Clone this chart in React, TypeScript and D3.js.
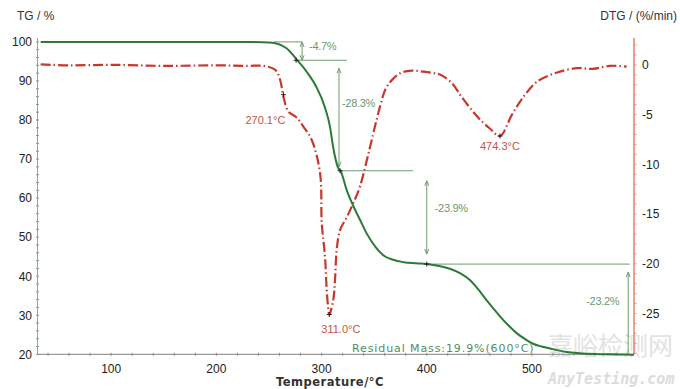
import React from "react";
import * as d3 from "d3";

const tgTemp = [33, 100, 200, 235, 250, 257, 262, 267, 276, 286, 295, 303, 308, 311, 316, 318, 324, 330, 337, 343, 351, 359, 368, 378, 390, 400, 412, 422, 432, 441, 449, 457, 464, 470, 478, 486, 494, 501, 509, 517, 525, 533, 545, 560, 575, 597];
const tgMass = [100, 100, 100, 99.95, 99.85, 99.6, 99.1, 98.3, 95.6, 92.3, 88.5, 83.4, 78.3, 73.1, 67.6, 67.0, 62.0, 58.1, 54.2, 50.9, 47.6, 45.3, 44.2, 43.6, 43.3, 43.1, 42.6, 41.9, 40.7, 39.0, 36.6, 33.8, 31.5, 29.6, 27.3, 25.3, 23.8, 22.7, 22.0, 21.5, 21.0, 20.6, 20.3, 20.1, 20.0, 19.9];

const dtgTemp = [33, 60, 100, 150, 200, 230, 244.7, 256, 260.6, 263.8, 268.5, 276.4, 282.7, 290.7, 298.6, 300.2, 303.3, 304.9, 306.5, 307.4, 311.2, 312.8, 314.4, 317.6, 324, 330.2, 336.6, 343, 347.7, 355.6, 362, 374.6, 385.7, 396.7, 405, 413, 424, 433, 448, 460, 469.6, 481, 492, 505, 524, 543, 558, 574, 590];
const dtgRate = [0.05, -0.05, 0, -0.1, -0.05, -0.1, -0.1, -0.5, -1.5, -3.2, -4.7, -5.3, -6.2, -7.55, -10.9, -15.9, -19.3, -22.6, -24.6, -25.1, -23.6, -21.6, -18.6, -16.6, -15.3, -13.9, -12.2, -9.6, -7.55, -4.2, -2.2, -0.85, -0.58, -0.68, -0.8, -1.0, -1.85, -3.2, -5.2, -6.4, -7.15, -5.0, -3.2, -1.68, -0.77, -0.33, -0.4, -0.1, -0.17];

const tempTicks = [100, 200, 300, 400, 500];
const tgTicks = [20, 30, 40, 50, 60, 70, 80, 90, 100];
const dtgTicks = [-25, -20, -15, -10, -5, 0];

// mass-loss steps: level before, level after, label, temperature of the arrow
const stepFrom = [100, 95.3, 67.0, 43.1];
const stepTo = [95.3, 67.0, 43.1, 19.9];
const stepLabels = ["-4.7%", "-28.3%", "-23.9%", "-23.2%"];
const stepArrowT = [281.5, 316.6, 400, 591.5];
const stepLineStartT = [255, 276, 317.6, 400];
const stepLineEndT = [281.5, 324, 387, 593];

const tgMarkT = [275.8, 317.6, 400];
const tgMarkV = [95.3, 67.0, 43.1];
const peakT = [263.8, 307.4, 469.6];
const peakV = [-3.0, -25.1, -7.15];
const peakLabels = ["270.1°C", "311.0°C", "474.3°C"];

const W = 680, H = 389;
const x = d3.scaleLinear().domain([30, 597]).range([37.5, 634]);
const yL = d3.scaleLinear().domain([20, 101]).range([354.3, 38]);
const yR = d3.scaleLinear().domain([-29.1, 2.7]).range([354.3, 38]);

const GREEN = "#2b7a37";
const RED = "#c8372c";
const ANN = "#6f9c73";
const ANNTXT = "#6a9a6e";
const RAXIS = "#e7836a";
const FONT = "'Liberation Sans', Arial, sans-serif";

function Plus({ cx, cy }: { cx: number; cy: number }) {
  return (
    <g stroke="#222" strokeWidth={1}>
      <line x1={cx - 2.5} x2={cx + 2.5} y1={cy} y2={cy} />
      <line x1={cx} x2={cx} y1={cy - 2.5} y2={cy + 2.5} />
    </g>
  );
}

function VArrow({ xp, y1, y2, up, down }: { xp: number; y1: number; y2: number; up: boolean; down: boolean }) {
  return (
    <g stroke={ANN} strokeWidth={1} fill="none">
      <line x1={xp} x2={xp} y1={y1} y2={y2} />
      {up && <path d={`M${xp - 2},${y1 + 5} L${xp},${y1} L${xp + 2},${y1 + 5}`} />}
      {down && <path d={`M${xp - 2},${y2 - 5} L${xp},${y2} L${xp + 2},${y2 - 5}`} />}
    </g>
  );
}

export default function App() {
  const tgLine = d3
    .line<number>()
    .x((_, i) => x(tgTemp[i]))
    .y((d) => yL(d))
    .curve(d3.curveMonotoneX)(tgMass) as string;
  const dtgLine = d3
    .line<number>()
    .x((_, i) => x(dtgTemp[i]))
    .y((d) => yR(d))
    .curve(d3.curveCatmullRom.alpha(0.5))(dtgRate) as string;

  const minorT = d3.range(40, 597, 20);
  const minorL = d3.range(20, 101, 2);
  const minorR = d3.range(-29, 3, 1);

  const x0 = x.range()[0];
  const x1 = x.range()[1];
  const yb = yL.range()[0];
  const yt = yL.range()[1];

  const arrowY1 = [yL(stepFrom[0]), yL(stepFrom[1]) + 8, yL(stepFrom[2]) + 10, yL(stepFrom[3]) + 8];
  const arrowY2 = [yL(stepTo[0]), yL(stepTo[1]) - 4, yL(stepTo[2]) - 10, yb];
  const labelPos = [
    [x(stepArrowT[0]) + 7, yL(97.8)],
    [x(stepArrowT[1]) + 3, yL(83.3)],
    [x(stepArrowT[2]) + 8, yL(56.4)],
    [x(stepArrowT[3]) - 42, yL(32.7)],
  ];
  const peakLabelPos = [
    [x(peakT[0]) - 38, yR(-5.9)],
    [x(peakT[1]) - 8, yR(-27.0)],
    [x(peakT[2]) - 20, yR(-8.6)],
  ];

  return (
    <svg width={W} height={H} style={{ position: "absolute", left: 0, top: 0, background: "#fff" }} fontFamily={FONT}>
      <rect width={W} height={H} fill="#fff" />

      {/* watermark */}
      <text x={548} y={355} fontFamily="'Noto Sans CJK SC', sans-serif" fontSize={25} fill="#e2e2e2">
        嘉峪检测网
      </text>
      <text x={548} y={384} fontFamily="'DejaVu Sans Mono', monospace" fontStyle="italic" fontWeight="bold" fontSize={15} fill="#dcdcdc">
        AnyTesting.com
      </text>

      {/* axes titles */}
      <text x={17} y={20} fontSize={12} fill="#333">TG / %</text>
      <text x={677} y={20} fontSize={12} fill="#333" textAnchor="end">DTG / (%/min)</text>
      <text x={330} y={386} fontSize={11.5} fontWeight="bold" fill="#333" textAnchor="middle" fontFamily="'DejaVu Sans', sans-serif" letterSpacing={0.5}>
        Temperature/°C
      </text>

      {/* bottom axis */}
      <line x1={x0} x2={x1} y1={yb} y2={yb} stroke="#9a9a9a" strokeWidth={1.2} />
      {minorT.map((t) => (
        <line key={"mt" + t} x1={x(t)} x2={x(t)} y1={yb - 1.5} y2={yb + 1.5} stroke="#8a8a8a" strokeWidth={1} />
      ))}
      {tempTicks.map((t) => (
        <text key={"tt" + t} x={x(t)} y={373} fontSize={12} fill="#222" textAnchor="middle">
          {t}
        </text>
      ))}

      {/* left axis */}
      <line x1={x0} x2={x0} y1={yt} y2={yb} stroke="#8fae8f" strokeWidth={1} />
      {minorL.map((v) => (
        <line key={"ml" + v} x1={x0 - 1.5} x2={x0 + 1.5} y1={yL(v)} y2={yL(v)} stroke="#7f9f7f" strokeWidth={1} />
      ))}
      {tgTicks.map((v) => (
        <text key={"tl" + v} x={32} y={yL(v) + 4.3} fontSize={12} fill="#222" textAnchor="end">
          {v}
        </text>
      ))}

      {/* right axis */}
      <line x1={x1} x2={x1} y1={yt} y2={yb} stroke={RAXIS} strokeWidth={1.5} />
      {minorR.map((v) => (
        <line key={"mr" + v} x1={x1} x2={x1 + 2.5} y1={yR(v)} y2={yR(v)} stroke={RAXIS} strokeWidth={0.8} />
      ))}
      {dtgTicks.map((v) => (
        <text key={"tr" + v} x={642} y={yR(v) + 4.3} fontSize={12} fill="#222">
          {v}
        </text>
      ))}

      {/* step annotation lines */}
      {stepFrom.map((f, i) => (
        <line
          key={"hl" + i}
          x1={x(stepLineStartT[i])}
          x2={x(stepLineEndT[i])}
          y1={yL(i === 0 ? f : stepTo[i - 1])}
          y2={yL(i === 0 ? f : stepTo[i - 1])}
          stroke={ANN}
          strokeWidth={1}
        />
      ))}

      {/* curves */}
      <path d={dtgLine} fill="none" stroke={RED} strokeWidth={2.2} strokeDasharray="10,3,1.5,3" />
      <path d={tgLine} fill="none" stroke={GREEN} strokeWidth={2} />

      {stepArrowT.map((t, i) => (
        <VArrow key={"va" + i} xp={x(t)} y1={arrowY1[i]} y2={arrowY2[i]} up={true} down={i !== 3} />
      ))}
      {stepLabels.map((s, i) => (
        <text key={"sl" + i} x={labelPos[i][0]} y={labelPos[i][1]} fontSize={11} fill={ANNTXT} letterSpacing={-0.3}>
          {s}
        </text>
      ))}

      {tgMarkT.map((t, i) => (
        <Plus key={"tm" + i} cx={x(t)} cy={yL(tgMarkV[i])} />
      ))}
      {peakT.map((t, i) => (
        <Plus key={"pm" + i} cx={x(t)} cy={yR(peakV[i])} />
      ))}
      {peakLabels.map((s, i) => (
        <text key={"pl" + i} x={peakLabelPos[i][0]} y={peakLabelPos[i][1]} fontSize={11} fill="#c8553f">
          {s}
        </text>
      ))}

      <text x={352} y={352} fontSize={11} fill="#4f8f5a" fontFamily="'DejaVu Sans', sans-serif" letterSpacing={0.9}>
        Residual Mass:19.9%(600°C)
      </text>
    </svg>
  );
}
